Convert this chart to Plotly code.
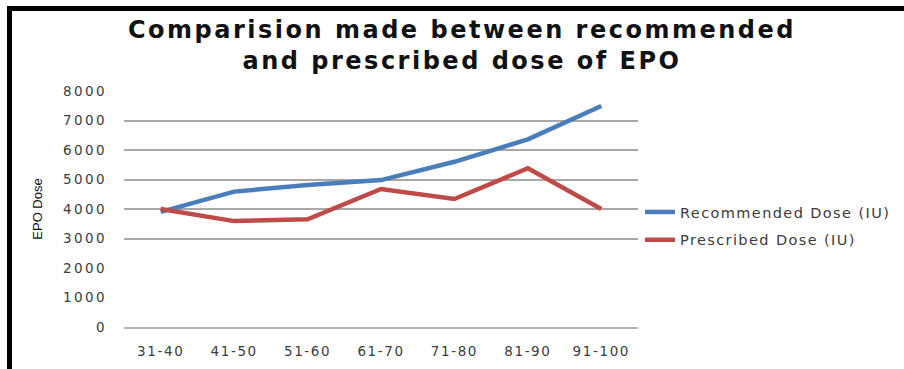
import plotly.graph_objects as go

# EPO dose by age group
age_groups = ["31-40", "41-50", "51-60", "61-70", "71-80", "81-90", "91-100"]
recommended_dose = [3900, 4590, 4810, 4980, 5600, 6360, 7490]
prescribed_dose = [4000, 3590, 3650, 4680, 4340, 5380, 4000]
grid_values = [3000, 4000, 5000, 6000, 7000]
y_ticks = list(range(0, 8001, 1000))
title_lines = ["Comparision made between recommended", "and prescribed dose of EPO"]
series_names = ["Recommended Dose (IU)", "Prescribed Dose (IU)"]

W, H = 904, 369
L, R, T, B = 124, 266, 91, 42
PW, PH = W - L - R, H - T - B


def px_x(px):
    return (px - L) / PW


def px_y(py):
    return 1 - (py - T) / PH


def spaced(text, px):
    """Wrap text in a span with extra letter spacing (wide face)."""
    return f'<span style="letter-spacing:{px}px">{text}</span>'


fig = go.Figure()
fig.add_trace(go.Scatter(
    x=age_groups, y=recommended_dose, mode="lines",
    name=spaced(series_names[0], 1.4), legendgroup="rec",
    line=dict(color="#4A7EBB", width=4.5),
))
fig.add_trace(go.Scatter(
    x=age_groups, y=prescribed_dose, mode="lines",
    name=spaced(series_names[1], 1.4), legendgroup="pre",
    line=dict(color="#BE4B48", width=4.5),
))
# invisible trace that carries the gridline axis
fig.add_trace(go.Scatter(x=[age_groups[0]], y=[None], yaxis="y2",
                         showlegend=False, hoverinfo="skip"))

tick_font = dict(family="DejaVu Sans", size=13.5, color="#3c3c3c")

fig.update_layout(
    width=W, height=H,
    margin=dict(l=L, r=R, t=T, b=B, autoexpand=False),
    paper_bgcolor="white", plot_bgcolor="white",
    xaxis=dict(
        type="category", showgrid=False, zeroline=False, automargin=False,
        showline=True, linecolor="#b4b4b4", linewidth=2,
        ticks="", tickfont=tick_font, ticklabelstandoff=11,
        tickvals=age_groups, ticktext=[spaced(a, 1.6) for a in age_groups],
        range=[-0.5, len(age_groups) - 0.5],
    ),
    yaxis=dict(
        range=[0, 8000], tickvals=y_ticks, automargin=False,
        ticktext=[spaced(v, 2.4) for v in y_ticks],
        showgrid=False, zeroline=False, showline=False,
        ticks="", tickfont=tick_font, ticklabelstandoff=16,
        title=dict(text="EPO Dose", standoff=17,
                   font=dict(family="Liberation Sans Narrow, Liberation Sans",
                             size=13, color="#111111")),
    ),
    yaxis2=dict(
        overlaying="y", range=[0, 8000], tickvals=grid_values, automargin=False,
        showgrid=True, gridcolor="#a8a8a8", gridwidth=1.5,
        showticklabels=False, zeroline=False, showline=False,
    ),
    legend=dict(
        x=px_x(640), xanchor="left",
        y=px_y(196), yanchor="top",
        font=dict(family="DejaVu Sans", size=14.5, color="#3c3c3c"),
        tracegroupgap=6, traceorder="grouped",
        bgcolor="rgba(0,0,0,0)",
    ),
    showlegend=True,
)

# two-line chart heading
fig.add_annotation(
    text=spaced("<br>".join(title_lines), 2.5), showarrow=False,
    xref="paper", yref="paper",
    x=px_x(462), xanchor="center", y=px_y(14), yanchor="top",
    font=dict(family="DejaVu Sans", size=24, color="#111111", weight="bold"),
)

# black frame on the left and top edges
fig.add_shape(type="rect", xref="paper", yref="paper",
              x0=px_x(7), x1=px_x(12), y0=px_y(H + 5), y1=px_y(6),
              fillcolor="black", line_width=0, layer="above")
fig.add_shape(type="rect", xref="paper", yref="paper",
              x0=px_x(7), x1=px_x(W + 5), y0=px_y(11), y1=px_y(6),
              fillcolor="black", line_width=0, layer="above")

fig.write_html("out.html")
